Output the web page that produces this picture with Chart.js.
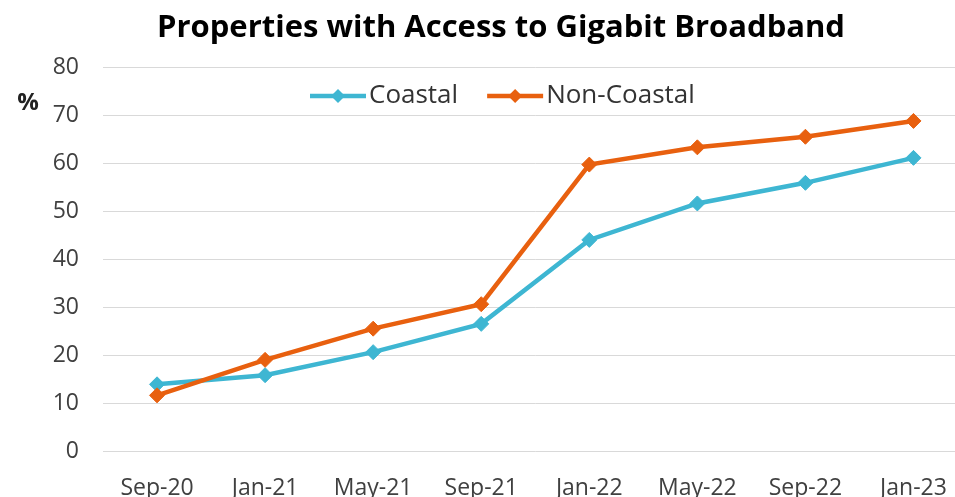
<!DOCTYPE html>
<html>
<head>
<meta charset="utf-8">
<script src="https://cdn.jsdelivr.net/npm/chart.js@4.4.0/dist/chart.umd.min.js"></script>
<style>
  html, body { margin: 0; padding: 0; background: #fff; overflow: hidden; }
  canvas { display: block; }
</style>
</head>
<body>
<canvas id="chart" width="976" height="520"></canvas>
<script>
// Data
const months = ['Sep-20', 'Jan-21', 'May-21', 'Sep-21', 'Jan-22', 'May-22', 'Sep-22', 'Jan-23'];
const coastal = [13.9, 15.8, 20.6, 26.5, 44.0, 51.6, 55.9, 61.1];
const nonCoastal = [11.6, 19.0, 25.5, 30.6, 59.7, 63.3, 65.5, 68.8];
const yMin = 0;
const yMax = 80;
const yStep = 10;

const teal = '#3EB6D2';
const orange = '#E8600F';
const font = 'Open Sans';

// Legend sits inside the plot, under the top gridline, so draw it by hand
const insideLegend = {
    id: 'insideLegend',
    afterLayout(chart) {
        // centre the title on 1002px like the original (chart is cropped on the right)
        chart.titleBlock.right = 1002;
    },
    afterDraw(chart) {
        const ctx = chart.ctx;
        ctx.save();
        ctx.font = '26px ' + font;
        ctx.textBaseline = 'middle';
        let x = 310;
        const y = 96;
        chart.data.datasets.forEach((ds) => {
            ctx.strokeStyle = ds.borderColor;
            ctx.fillStyle = ds.borderColor;
            ctx.lineWidth = 4.5;
            ctx.beginPath();
            ctx.moveTo(x, y);
            ctx.lineTo(x + 56, y);
            ctx.stroke();
            ctx.beginPath();
            ctx.moveTo(x + 28, y - 7);
            ctx.lineTo(x + 35, y);
            ctx.lineTo(x + 28, y + 7);
            ctx.lineTo(x + 21, y);
            ctx.closePath();
            ctx.fill();
            ctx.fillStyle = '#333';
            ctx.fillText(ds.label, x + 59, y);
            x += 59 + ctx.measureText(ds.label).width + 29;
        });
        // unit label left of the axis
        ctx.font = 'bold 24px ' + font;
        ctx.fillStyle = '#222';
        ctx.textAlign = 'center';
        ctx.fillText('%', 28, 103);
        ctx.restore();
    }
};

const ctx = document.getElementById('chart').getContext('2d');

new Chart(ctx, {
    type: 'line',
    data: {
        labels: months,
        datasets: [{
            label: 'Coastal',
            data: coastal,
            borderColor: teal,
            backgroundColor: teal,
            borderWidth: 4.5,
            pointStyle: 'rectRot',
            pointRadius: 7.5,
            pointBorderWidth: 1,
            order: 1
        }, {
            label: 'Non-Coastal',
            data: nonCoastal,
            borderColor: orange,
            backgroundColor: orange,
            borderWidth: 4.5,
            pointStyle: 'rectRot',
            pointRadius: 7.5,
            pointBorderWidth: 1,
            order: 0
        }]
    },
    options: {
        responsive: false,
        animation: false,
        events: [],
        layout: { padding: 0 },
        plugins: {
            title: {
                display: true,
                text: 'Properties with Access to Gigabit Broadband',
                color: '#000',
                font: { family: font, size: 31, weight: 'bold' },
                padding: { top: 10, bottom: 20 }
            },
            legend: { display: false },
            tooltip: { enabled: false }
        },
        scales: {
            x: {
                offset: true,
                grid: { display: false },
                border: { display: false },
                ticks: {
                    color: '#404040',
                    font: { family: font, size: 23 },
                    padding: 16,
                    maxRotation: 0,
                    autoSkip: false
                },
                afterFit(scale) { scale.height = 69; }
            },
            y: {
                min: yMin,
                max: yMax,
                grid: { color: '#D9D9D9', lineWidth: 1, drawTicks: false },
                border: { display: false },
                ticks: {
                    stepSize: yStep,
                    color: '#404040',
                    font: { family: font, size: 23 },
                    padding: 24
                },
                afterFit(scale) { scale.width = 103; }
            }
        }
    },
    plugins: [insideLegend]
});
</script>
</body>
</html>
